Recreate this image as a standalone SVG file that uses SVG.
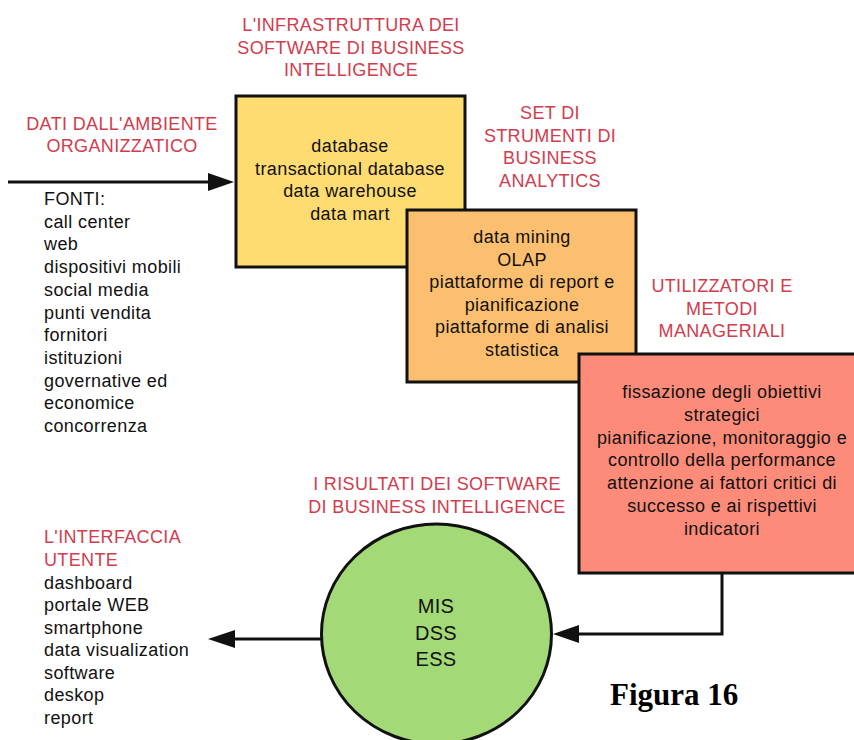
<svg xmlns="http://www.w3.org/2000/svg" width="854" height="740" viewBox="0 0 854 740">
<style>
.lbl{font-family:"Liberation Sans",Arial,sans-serif;font-size:18px;letter-spacing:0.35px;fill:#d23c4c;text-anchor:middle}
.lbll{font-family:"Liberation Sans",Arial,sans-serif;font-size:18px;letter-spacing:0.35px;fill:#d23c4c}
.txt{font-family:"Liberation Sans",Arial,sans-serif;font-size:18px;letter-spacing:0.4px;fill:#111;text-anchor:middle}
.lst{font-family:"Liberation Sans",Arial,sans-serif;font-size:18px;letter-spacing:0.4px;fill:#111}
.box{stroke:#111;stroke-width:3}
.conn{stroke:#111;stroke-width:3;fill:none}
.head{fill:#111}
</style>
<rect width="854" height="740" fill="#fff"/>
<g id="label-infra">
<text class="lbl" x="351" y="31">L'INFRASTRUTTURA DEI</text>
<text class="lbl" x="351" y="54">SOFTWARE DI BUSINESS</text>
<text class="lbl" x="351" y="76">INTELLIGENCE</text>
</g>
<g id="label-dati">
<text class="lbl" x="122" y="130">DATI DALL'AMBIENTE</text>
<text class="lbl" x="122" y="152">ORGANIZZATICO</text>
</g>
<g id="fonti">
<text class="lst" x="44" y="205">FONTI:</text>
<text class="lst" x="44" y="227.7">call center</text>
<text class="lst" x="44" y="250.4">web</text>
<text class="lst" x="44" y="273.1">dispositivi mobili</text>
<text class="lst" x="44" y="295.8">social media</text>
<text class="lst" x="44" y="318.5">punti vendita</text>
<text class="lst" x="44" y="341.2">fornitori</text>
<text class="lst" x="44" y="363.9">istituzioni</text>
<text class="lst" x="44" y="386.6">governative ed</text>
<text class="lst" x="44" y="409.3">economice</text>
<text class="lst" x="44" y="432">concorrenza</text>
</g>
<g id="node-infra">
<rect class="box" x="236" y="96" width="229" height="171" fill="#fedc72"/>
<text class="txt" x="350" y="152">database</text>
<text class="txt" x="350" y="174.5">transactional database</text>
<text class="txt" x="350" y="197">data warehouse</text>
<text class="txt" x="350" y="219.5">data mart</text>
</g>
<g id="label-set">
<text class="lbl" x="550" y="119">SET DI</text>
<text class="lbl" x="550" y="141.5">STRUMENTI DI</text>
<text class="lbl" x="550" y="164">BUSINESS</text>
<text class="lbl" x="550" y="186.5">ANALYTICS</text>
</g>
<g id="node-analytics">
<rect class="box" x="407" y="210" width="229" height="172" fill="#fcbf6f"/>
<text class="txt" x="522" y="243">data mining</text>
<text class="txt" x="522" y="265.6">OLAP</text>
<text class="txt" x="522" y="288.2">piattaforme di report e</text>
<text class="txt" x="522" y="310.8">pianificazione</text>
<text class="txt" x="522" y="333.4">piattaforme di analisi</text>
<text class="txt" x="522" y="356">statistica</text>
</g>
<g id="label-utilizzatori">
<text class="lbl" x="722" y="292">UTILIZZATORI E</text>
<text class="lbl" x="722" y="314.5">METODI</text>
<text class="lbl" x="722" y="337">MANAGERIALI</text>
</g>
<g id="node-manageriali">
<rect class="box" x="579" y="354" width="280" height="219" fill="#fd8b7a"/>
<text class="txt" x="722" y="398">fissazione degli obiettivi</text>
<text class="txt" x="722" y="420.8">strategici</text>
<text class="txt" x="722" y="443.6">pianificazione, monitoraggio e</text>
<text class="txt" x="722" y="466.4">controllo della performance</text>
<text class="txt" x="722" y="489.2">attenzione ai fattori critici di</text>
<text class="txt" x="722" y="512">successo e ai rispettivi</text>
<text class="txt" x="722" y="534.8">indicatori</text>
</g>
<g id="label-risultati">
<text class="lbl" x="437" y="490">I RISULTATI DEI SOFTWARE</text>
<text class="lbl" x="437" y="513">DI BUSINESS INTELLIGENCE</text>
</g>
<g id="node-risultati">
<ellipse class="box" cx="436.5" cy="634" rx="115" ry="110" fill="#a3d977"/>
<text class="txt" style="font-size:20px;letter-spacing:0.3px" x="436" y="613">MIS</text>
<text class="txt" style="font-size:20px;letter-spacing:0.3px" x="436" y="639.5">DSS</text>
<text class="txt" style="font-size:20px;letter-spacing:0.3px" x="436" y="666">ESS</text>
</g>
<g id="interfaccia">
<text class="lbll" x="44" y="543">L'INTERFACCIA</text>
<text class="lbll" x="44" y="565.5">UTENTE</text>
<text class="lst" x="44" y="588.5">dashboard</text>
<text class="lst" x="44" y="611">portale WEB</text>
<text class="lst" x="44" y="633.5">smartphone</text>
<text class="lst" x="44" y="656">data visualization</text>
<text class="lst" x="44" y="678.5">software</text>
<text class="lst" x="44" y="701">deskop</text>
<text class="lst" x="44" y="723.5">report</text>
</g>
<g id="connectors">
<line class="conn" x1="8" y1="182" x2="212" y2="182"/>
<polygon class="head" points="234,182 208,173 208,191"/>
<line class="conn" x1="321" y1="639" x2="230" y2="639"/>
<polygon class="head" points="208,639 235,630 235,648"/>
<polyline class="conn" points="722,573 722,634 574,634"/>
<polygon class="head" points="553,634 579,625 579,643"/>
</g>
<text id="caption" x="610" y="705" style="font-family:'Liberation Serif','Times New Roman',serif;font-weight:bold;font-size:31px;fill:#000">Figura 16</text>
</svg>
